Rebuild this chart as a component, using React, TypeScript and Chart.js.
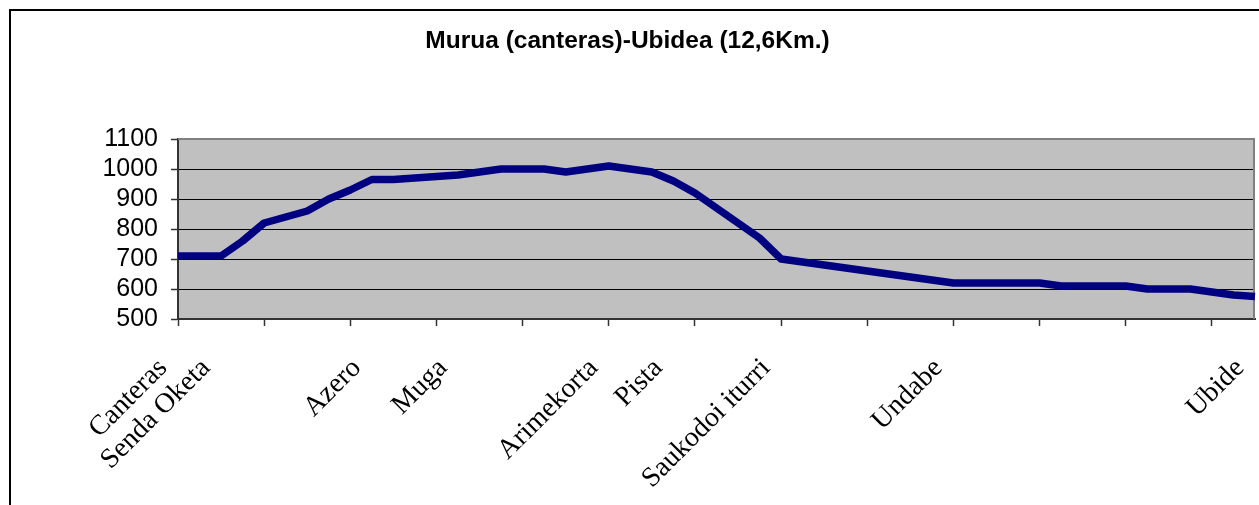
import React, { useEffect, useRef } from "react";
import { Chart, registerables } from "chart.js";

Chart.register(...registerables);

const TITLE = "Murua (canteras)-Ubidea (12,6Km.)";

// Category labels (one per measured point; most points are unnamed)
const categoryLabels: string[] = [
  "Canteras", "", "Senda Oketa", "", "", "", "", "", "", "Azero",
  "", "", "", "Muga", "", "", "", "", "", "",
  "Arimekorta", "", "", "Pista", "", "", "", "", "Saukodoi iturri", "",
  "", "", "", "", "", "", "Undabe", "", "", "",
  "", "", "", "", "", "", "", "", "", "",
  "Ubide",
];

// Altitude (m) at each point
const altitudes: number[] = [
  710, 710, 710, 760, 820, 840, 860, 900, 930, 965,
  965, 970, 975, 980, 990, 1000, 1000, 1000, 990, 1000,
  1010, 1000, 990, 960, 920, 870, 820, 770, 700, 690,
  680, 670, 660, 650, 640, 630, 620, 620, 620, 620,
  620, 610, 610, 610, 610, 600, 600, 600, 590, 580,
  575,
];

const Y_MIN = 500;
const Y_MAX = 1100;
const Y_STEP = 100;
const TICK_EVERY = 4;

const W = 1259;
const H = 505;

const plotBackground = {
  id: "plotBackground",
  beforeDraw(chart: any) {
    const { ctx, chartArea } = chart;
    if (!chartArea) return;
    ctx.save();
    ctx.fillStyle = "#C0C0C0";
    ctx.fillRect(chartArea.left, chartArea.top, chartArea.right - chartArea.left, chartArea.bottom - chartArea.top);
    ctx.restore();
  },
  beforeDatasetsDraw(chart: any) {
    const { ctx, chartArea } = chart;
    if (!chartArea) return;
    ctx.save();
    ctx.strokeStyle = "#808080";
    ctx.lineWidth = 2;
    ctx.beginPath();
    ctx.moveTo(chartArea.left, chartArea.top);
    ctx.lineTo(chartArea.right - 1, chartArea.top);
    ctx.lineTo(chartArea.right - 1, chartArea.bottom);
    ctx.stroke();
    ctx.restore();
  },
};

export default function App() {
  const canvasRef = useRef<HTMLCanvasElement | null>(null);

  useEffect(() => {
    if (!canvasRef.current) return;
    const chart = new Chart(canvasRef.current, {
      type: "line",
      data: {
        labels: categoryLabels,
        datasets: [
          {
            data: altitudes,
            borderColor: "#000080",
            backgroundColor: "#000080",
            borderWidth: 7.5,
            pointRadius: 0,
            pointHoverRadius: 0,
            tension: 0,
            borderJoinStyle: "round",
            borderCapStyle: "butt",
          },
        ],
      },
      plugins: [plotBackground],
      options: {
        responsive: false,
        animation: false,
        events: [],
        layout: { padding: { left: 0, right: 4, top: 0, bottom: 0 } },
        plugins: {
          legend: { display: false },
          tooltip: { enabled: false },
          title: {
            display: true,
            text: TITLE,
            color: "#000",
            font: { family: "'Liberation Sans', Arial, sans-serif", size: 24.5, weight: "bold", lineHeight: 1.2 },
            padding: { top: 27, bottom: 82.6 },
          },
        },
        scales: {
          x: {
            type: "category",
            offset: false,
            border: { display: true, color: "#333333", width: 2 },
            grid: {
              display: true,
              drawOnChartArea: false,
              drawTicks: true,
              tickLength: 7,
              tickWidth: 1.5,
              color: "rgba(0,0,0,0)",
              tickColor: (ctx: any) => (ctx.index % TICK_EVERY === 0 ? "#333333" : "rgba(0,0,0,0)"),
            },
            ticks: {
              autoSkip: false,
              maxRotation: 45,
              minRotation: 45,
              padding: 26,
              labelOffset: -15,
              color: "#000",
              font: { family: "'Liberation Serif', 'Times New Roman', serif", size: 28 },
            },
            afterFit: (scale: any) => {
              scale.height = H - 319;
              scale.paddingLeft = 0;
              scale.paddingRight = 0;
            },
          },
          y: {
            min: Y_MIN,
            max: Y_MAX,
            border: { display: true, color: "#333333", width: 2 },
            grid: {
              display: true,
              color: "#000000",
              lineWidth: 1,
              drawTicks: true,
              tickLength: 7,
              tickColor: "#333333",
              tickWidth: 1.5,
            },
            ticks: {
              stepSize: Y_STEP,
              autoSkip: false,
              padding: 13,
              color: "#000",
              font: { family: "'Liberation Sans', Arial, sans-serif", size: 25 },
              callback: (v: any) => String(v),
            },
            afterFit: (scale: any) => {
              scale.width = 178;
              scale.paddingTop = 0;
              scale.paddingBottom = 0;
            },
          },
        },
      },
    });
    return () => chart.destroy();
  }, []);

  return (
    <div style={{ position: "fixed", left: 0, top: 0, width: W, height: H, overflow: "hidden", background: "#fff" }}>
      <canvas ref={canvasRef} width={W} height={H} style={{ position: "absolute", left: 0, top: 0, width: W, height: H }} />
      <div
        style={{
          position: "absolute",
          left: 9,
          top: 9,
          width: W + 20,
          height: H + 20,
          borderLeft: "2px solid #000",
          borderTop: "2px solid #000",
          boxSizing: "border-box",
          pointerEvents: "none",
        }}
      />
    </div>
  );
}
